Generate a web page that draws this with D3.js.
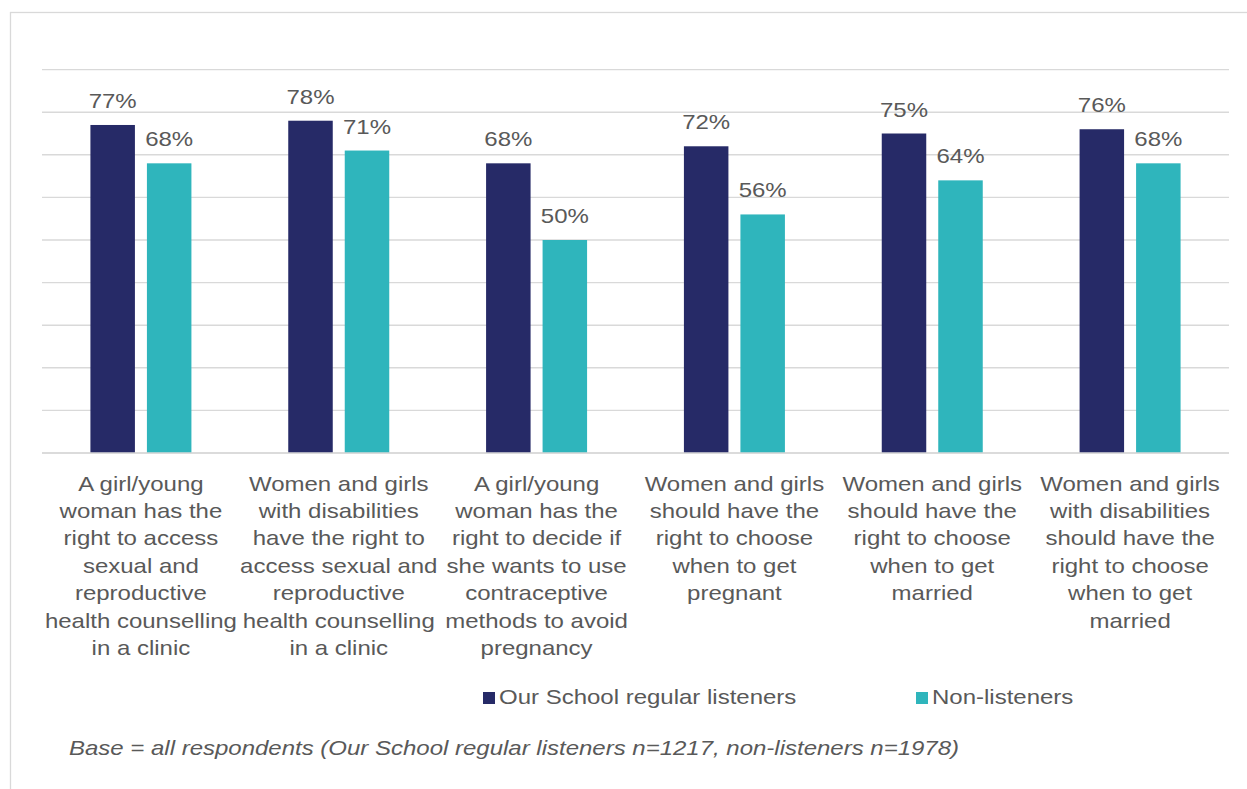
<!DOCTYPE html>
<html>
<head>
<meta charset="utf-8">
<script src="https://cdn.jsdelivr.net/npm/d3@7"></script>
<style>
  html, body { margin: 0; padding: 0; background: #ffffff; }
  svg { display: block; font-family: "Liberation Sans", Arial, sans-serif; }
</style>
</head>
<body>
<svg id="chart" width="1247" height="789"></svg>
<script>
// Statement labels, pre-wrapped into lines
const categories = [
  ["A girl/young", "woman has the", "right to access", "sexual and", "reproductive", "health counselling", "in a clinic"],
  ["Women and girls", "with disabilities", "have the right to", "access sexual and", "reproductive", "health counselling", "in a clinic"],
  ["A girl/young", "woman has the", "right to decide if", "she wants to use", "contraceptive", "methods to avoid", "pregnancy"],
  ["Women and girls", "should have the", "right to choose", "when to get", "pregnant"],
  ["Women and girls", "should have the", "right to choose", "when to get", "married"],
  ["Women and girls", "with disabilities", "should have the", "right to choose", "when to get", "married"]
];
const seriesNames = ["Our School regular listeners", "Non-listeners"];
const listeners = [77, 78, 68, 72, 75, 76];
const nonListeners = [68, 71, 50, 56, 64, 68];
const gridTicks = [0, 10, 20, 30, 40, 50, 60, 70, 80, 90];
const footnote = "Base = all respondents (Our School regular listeners n=1217, non-listeners n=1978)";

const colors = ["#262A67", "#2FB5BC"];
const textColor = "#595959";
const gridColor = "#D9D9D9";
const FONT = 20;
const STRETCH = 1.2;   // text in this layout is set wide

const svg = d3.select("#chart");

// Places a wide-set text element at (x, y)
function wideText(parent, x, y) {
  return parent.append("text")
    .attr("transform", `translate(${x},${y}) scale(${STRETCH},1)`)
    .attr("font-size", FONT)
    .attr("fill", textColor);
}

// Chart frame
svg.append("rect")
  .attr("x", 10.5).attr("y", 12.5)
  .attr("width", 1260).attr("height", 800)
  .attr("fill", "none").attr("stroke", gridColor).attr("stroke-width", 1.3);

const plot = { left: 42, right: 1229, top: 27, bottom: 453 };

const x = d3.scaleBand()
  .domain(d3.range(categories.length))
  .range([plot.left, plot.right])
  .paddingInner(0).paddingOuter(0);

const y = d3.scaleLinear().domain([0, 100]).range([plot.bottom, plot.top]);

// Horizontal gridlines
svg.append("g").selectAll("line")
  .data(gridTicks)
  .join("line")
  .attr("x1", plot.left).attr("x2", plot.right)
  .attr("y1", d => y(d)).attr("y2", d => y(d))
  .attr("stroke", gridColor).attr("stroke-width", 1.4);

const barW = 44.5;
const gap = 12;
const series = [listeners, nonListeners];
const offsets = [-gap / 2 - barW, gap / 2];

series.forEach((vals, si) => {
  const g = svg.append("g");
  g.selectAll("rect")
    .data(vals)
    .join("rect")
    .attr("x", (d, i) => x(i) + x.bandwidth() / 2 + offsets[si])
    .attr("y", d => y(d))
    .attr("width", barW)
    .attr("height", d => y(0) - y(d))
    .attr("fill", colors[si]);

  vals.forEach((d, i) => {
    wideText(g, x(i) + x.bandwidth() / 2 + offsets[si] + barW / 2, y(d) - 17)
      .attr("text-anchor", "middle")
      .text(d + "%");
  });
});

// Baseline
svg.append("line")
  .attr("x1", plot.left).attr("x2", plot.right)
  .attr("y1", y(0)).attr("y2", y(0))
  .attr("stroke", gridColor).attr("stroke-width", 1.4);

// Category labels
const catG = svg.append("g");
categories.forEach((lines, i) => {
  const t = wideText(catG, x(i) + x.bandwidth() / 2, 490.5)
    .attr("text-anchor", "middle");
  lines.forEach((ln, j) => {
    t.append("tspan")
      .attr("x", 0)
      .attr("y", j * 27.5)
      .text(ln);
  });
});

// Legend
const legendItems = [
  { name: seriesNames[0], color: colors[0], x: 483 },
  { name: seriesNames[1], color: colors[1], x: 916 }
];
const lg = svg.append("g");
legendItems.forEach(it => {
  lg.append("rect")
    .attr("x", it.x).attr("y", 692)
    .attr("width", 12).attr("height", 12)
    .attr("fill", it.color);
  wideText(lg, it.x + 16, 704).text(it.name);
});

// Base note
wideText(svg, 69, 755)
  .attr("font-style", "italic")
  .text(footnote);
</script>
</body>
</html>
